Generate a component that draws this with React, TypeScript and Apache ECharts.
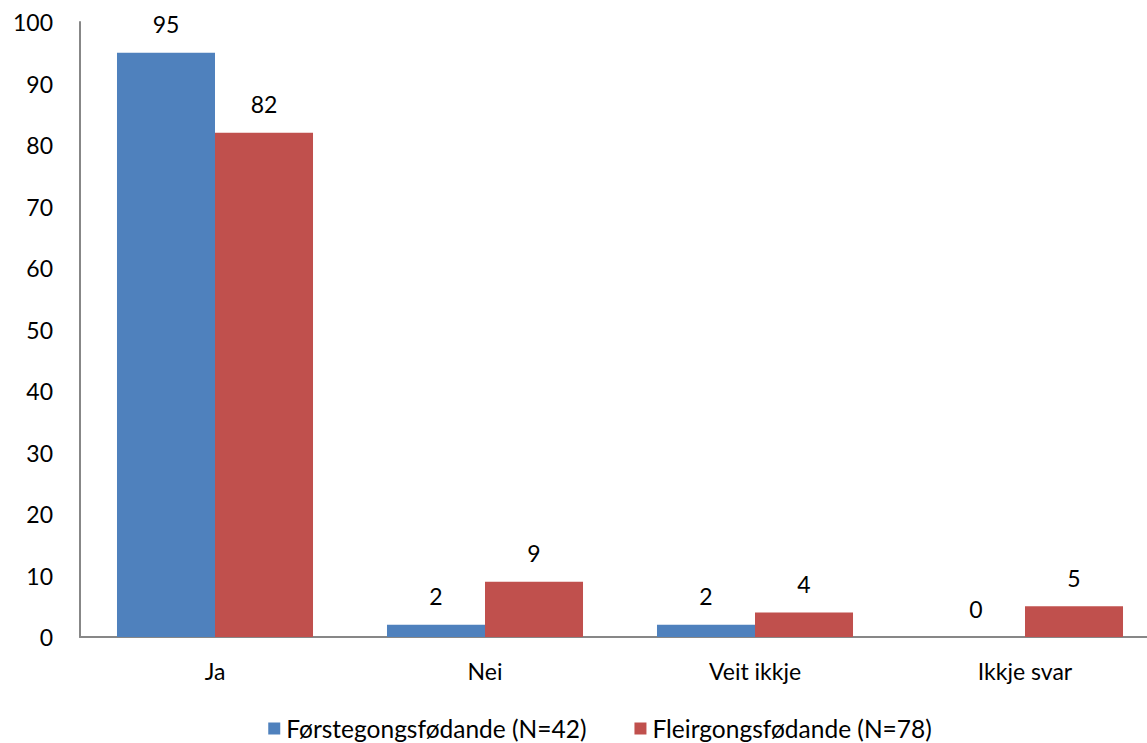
import React, { useEffect, useRef } from "react";
import * as echarts from "echarts";

const categories = ["Ja", "Nei", "Veit ikkje", "Ikkje svar"];
const seriesNames = ["Førstegongsfødande (N=42)", "Fleirgongsfødande (N=78)"];
const firstTime = [95, 2, 2, 0];
const multiTime = [82, 9, 4, 5];
const yTicks = { min: 0, max: 100, interval: 10 };

const FONT = "Lato, 'Open Sans', sans-serif";
const FS = 23;

export default function App() {
  const ref = useRef<HTMLDivElement>(null);
  useEffect(() => {
    if (!ref.current) return;
    const chart = echarts.init(ref.current, null, { renderer: "svg" });
    const label = {
      show: true,
      position: "top",
      distance: 17,
      color: "#000",
      fontSize: FS,
      fontFamily: FONT,
    };
    chart.setOption({
      animation: false,
      backgroundColor: "#fff",
      textStyle: { fontFamily: FONT },
      grid: { left: 80, top: 22, width: 1080, height: 615, containLabel: false },
      legend: {
        data: seriesNames,
        top: 711,
        left: "center",
        itemWidth: 12,
        itemHeight: 12,
        itemGap: 48,
        icon: "rect",
        textStyle: { fontSize: 24.5, color: "#000", fontFamily: FONT, padding: [0, 0, 0, 1] },
      },
      xAxis: {
        type: "category",
        data: categories,
        axisLine: { lineStyle: { color: "#878787", width: 2 } },
        axisTick: { show: false },
        axisLabel: { fontSize: FS, color: "#000", margin: 22, fontFamily: FONT },
      },
      yAxis: {
        type: "value",
        min: yTicks.min,
        max: yTicks.max,
        interval: yTicks.interval,
        splitLine: { show: false },
        axisLine: { show: true, lineStyle: { color: "#878787", width: 2 } },
        axisTick: { show: false },
        axisLabel: { fontSize: FS, color: "#000", margin: 27, fontFamily: FONT },
      },
      series: [
        {
          name: seriesNames[0],
          type: "bar",
          data: firstTime,
          barGap: "0%",
          barCategoryGap: "27.4%",
          itemStyle: { color: "#4F81BD" },
          label,
        },
        {
          name: seriesNames[1],
          type: "bar",
          data: multiTime,
          itemStyle: { color: "#C0504D" },
          label,
        },
      ],
    });
    return () => chart.dispose();
  }, []);
  return (
    <div style={{ position: "absolute", left: 0, top: 0, width: 1147, height: 743, overflow: "hidden", background: "#fff" }}>
      <div ref={ref} style={{ width: 1200, height: 743 }} />
    </div>
  );
}
